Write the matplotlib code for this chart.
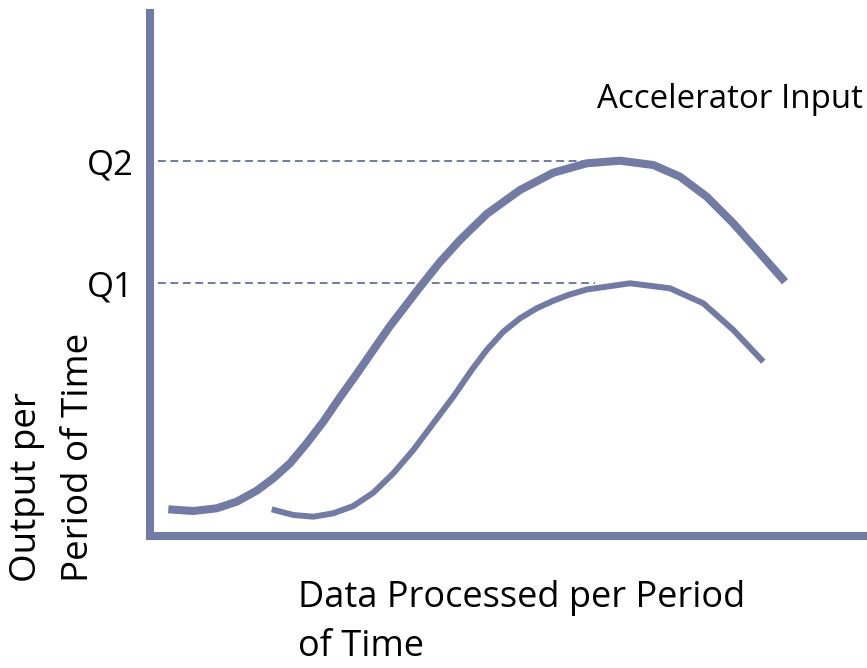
import numpy as np
import matplotlib.pyplot as plt

# values (x right of the y axis, y above the x axis)
accel_x = [18.3, 43.3, 66.7, 86.7, 106.7, 123.3, 140, 156.7, 173.3, 190, 206.7, 223.3, 240,
           260, 270, 290, 310, 336.7, 370, 403.3, 436.7, 470, 503.3, 530, 556.7, 583.3, 610, 635]
accel_y = [26.7, 25, 27.7, 34.3, 45.3, 57.7, 72.7, 92.7, 114.3, 138.7, 162, 186, 210,
           236, 249, 274, 296, 322, 346, 363.3, 372.7, 375.3, 371, 359.3, 339.3, 312.7, 282.7, 254.3]

base_x = [121.7, 143.3, 163.3, 183.3, 203.3, 223.3, 243.3, 263.3, 283.3, 303.3, 321.7,
          336.7, 353.3, 370, 386.7, 403.3, 418.3, 436.7, 480, 520, 553.3, 583.3, 613.3]
base_y = [26.7, 21, 19.3, 22.7, 30, 43.3, 62.7, 86, 112.7, 139.3, 166,
          186, 204.3, 217.7, 227.7, 235.3, 241, 246.5, 252.7, 247.7, 232.7, 206, 174.3]

q_levels = [253, 375]
q_labels = ['Q1', 'Q2']
q_ends = [445, 433]

col = '#717ba3'

plt.rcParams['font.family'] = ['Open Sans', 'DejaVu Sans']

fig = plt.figure(figsize=(8.67, 6.68), dpi=100)
ax = fig.add_axes([150/867, (668-536)/668, 1 - 150/867, (536-13)/668])

ax.plot(accel_x, accel_y, color=col, lw=5.8, solid_capstyle='butt', solid_joinstyle='round')
ax.plot(base_x, base_y, color=col, lw=4.3, solid_capstyle='butt', solid_joinstyle='round')

for lv, xe in zip(q_levels, q_ends):
    ax.plot([8, xe], [lv, lv], color=col, lw=1.4, dashes=(4, 2.4))

ax.set_xlim(0, 717)
ax.set_ylim(0, 523)
ax.set_xticks([])
ax.set_yticks(q_levels)
ax.set_yticklabels(q_labels, fontsize=25)
ax.tick_params(axis='y', length=0, pad=12)

for s in ['top', 'right']:
    ax.spines[s].set_visible(False)
for s in ['left', 'bottom']:
    ax.spines[s].set_color(col)
    ax.spines[s].set_linewidth(5.8)
    ax.spines[s].set_capstyle('projecting')

ax.text(597 - 150, 536 - 100, 'Accelerator Input', fontsize=23.8, ha='left', va='center')

fig.text(298/867, 1 - 580/668, 'Data Processed per Period\nof Time', fontsize=26,
         ha='left', va='top', linespacing=1.5)
fig.text(9/867, 1 - 582/668, 'Output per\nPeriod of Time', fontsize=26.5, rotation=90,
         ha='left', va='bottom', multialignment='left', linespacing=1.6)

fig.savefig('out.png', dpi=100)
